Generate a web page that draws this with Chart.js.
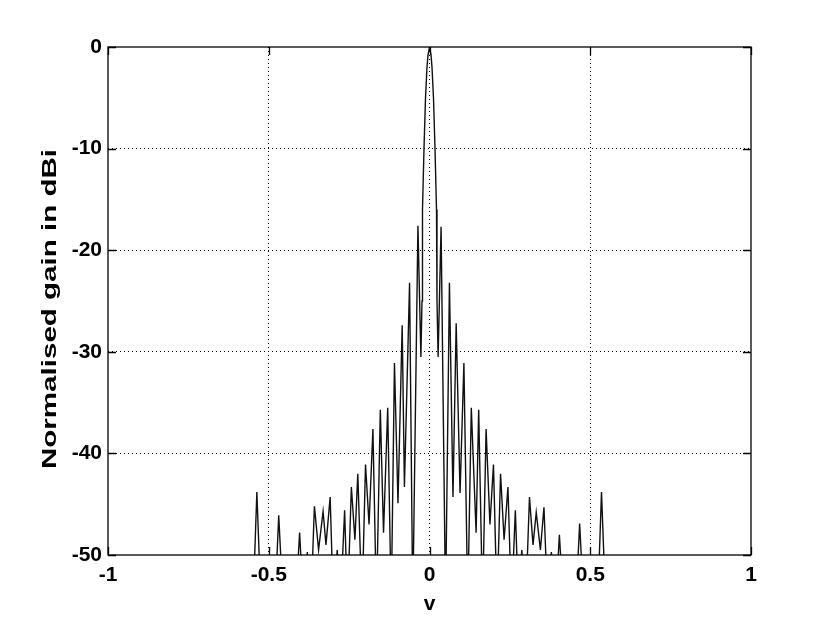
<!DOCTYPE html>
<html>
<head>
<meta charset="utf-8">
<script src="https://cdn.jsdelivr.net/npm/chart.js@4/dist/chart.umd.min.js"></script>
<style>
  html, body { margin: 0; padding: 0; background: #fff; }
  canvas { display: block; }
</style>
</head>
<body>
<canvas id="pattern" width="830" height="623"></canvas>
<script>
// sampled beam pattern, read off the picture (v, gain in dBi)
// values below -50 are off the axis, they just go down past the bottom
const vValues = [
	-1.0, -0.549, -0.537, -0.524, -0.481, -0.469, -0.455, -0.417, -0.404, -0.392,
	-0.380, -0.369, -0.358, -0.345, -0.331, -0.322, -0.309, -0.299, -0.287, -0.277,
	-0.264, -0.255, -0.243, -0.232, -0.223, -0.210, -0.199, -0.188, -0.176, -0.165,
	-0.153, -0.143, -0.130, -0.119, -0.109, -0.098, -0.085, -0.078, -0.062, -0.052,
	-0.036, -0.0268, -0.0233, -0.0218, -0.0171, -0.0124, -0.0078, -0.0047, 0,
	0.0047, 0.0078, 0.0124, 0.0171, 0.0218, 0.0233, 0.0268, 0.036, 0.050, 0.062,
	0.073, 0.083, 0.095, 0.107, 0.119, 0.130, 0.145, 0.153, 0.165, 0.176,
	0.188, 0.199, 0.210, 0.221, 0.232, 0.244, 0.255, 0.267, 0.277, 0.287,
	0.299, 0.311, 0.322, 0.332, 0.345, 0.356, 0.368, 0.379, 0.392, 0.404,
	0.417, 0.455, 0.467, 0.480, 0.523, 0.535, 0.548, 1.0
];
const gainDb = [
	-55, -55, -43.8, -55, -55, -46.1, -55, -55, -47.8, -55,
	-49.7, -55, -45.2, -49.5, -45.7, -49.0, -44.3, -55, -49.5, -55,
	-45.6, -55, -43.3, -48.5, -42.0, -55, -41.1, -47.0, -37.6, -55,
	-35.7, -47.8, -35.5, -55, -31.1, -44.9, -27.4, -43.3, -23.2, -55,
	-17.6, -30.5, -25.0, -16.0, -10.0, -5.0, -2.0, -0.8, 0,
	-0.8, -2.0, -5.0, -10.0, -16.0, -25.0, -30.5, -17.7, -55, -23.2,
	-44.3, -27.2, -43.9, -31.1, -55, -35.5, -47.8, -35.7, -55, -37.6,
	-47.0, -41.1, -55, -42.0, -48.5, -43.3, -55, -45.6, -55, -49.5,
	-55, -44.3, -49.0, -45.8, -49.5, -45.3, -55, -49.7, -55, -48.0,
	-55, -55, -46.9, -55, -55, -43.8, -55, -55
];
const xTicks = [-1, -0.5, 0, 0.5, 1];
const yTicks = [-50, -40, -30, -20, -10, 0];
const xTitle = "v";
const yTitle = "Normalised gain in dBi";

const points = vValues.map((v, i) => ({ x: v, y: gainDb[i] }));

// matlab style: closed box, ticks pointing inwards, hand drawn axis titles
const matlabFrame = {
	id: "matlabFrame",
	afterDraw(chart) {
		const ctx = chart.ctx;
		const a = chart.chartArea;
		const xs = chart.scales.x;
		const ys = chart.scales.y;
		const tl = 8;
		ctx.save();
		ctx.strokeStyle = "#000";
		ctx.lineWidth = 1.3;
		ctx.setLineDash([]);
		ctx.beginPath();
		xTicks.forEach((t) => {
			const px = Math.round(xs.getPixelForValue(t)) + 0.5;
			ctx.moveTo(px, a.bottom);
			ctx.lineTo(px, a.bottom - tl);
			ctx.moveTo(px, a.top);
			ctx.lineTo(px, a.top + tl);
		});
		yTicks.forEach((t) => {
			const py = Math.round(ys.getPixelForValue(t)) + 0.5;
			ctx.moveTo(a.left, py);
			ctx.lineTo(a.left + tl, py);
			ctx.moveTo(a.right, py);
			ctx.lineTo(a.right - tl, py);
		});
		ctx.stroke();
		ctx.strokeRect(a.left, a.top, a.right - a.left, a.bottom - a.top);

		ctx.fillStyle = "#000";
		ctx.font = "bold 21px 'Liberation Sans', Arial, sans-serif";
		ctx.textAlign = "center";
		ctx.textBaseline = "middle";
		ctx.fillText(xTitle, (a.left + a.right) / 2, 604);

		// the original y title is stretched wide, about 320px long
		ctx.font = "bold 20px 'Liberation Sans', Arial, sans-serif";
		const stretch = 320 / ctx.measureText(yTitle).width;
		ctx.translate(50, 309);
		ctx.rotate(-Math.PI / 2);
		ctx.scale(stretch, 1);
		ctx.fillText(yTitle, 0, 0);
		ctx.restore();
	},
};

const edgeless = (ticks) => (c) =>
	c.tick && (c.tick.value === ticks[0] || c.tick.value === ticks[ticks.length - 1])
		? "rgba(0,0,0,0)"
		: "#000";

const tickFont = { family: "'Liberation Sans', Arial, sans-serif", size: 21, weight: "bold" };

new Chart(document.getElementById("pattern"), {
	type: "scatter",
	data: {
		datasets: [
			{
				data: points,
				showLine: true,
				borderColor: "#111",
				borderWidth: 1.4,
				pointRadius: 0,
				tension: 0,
			},
		],
	},
	options: {
		responsive: false,
		animation: false,
		layout: { padding: { left: 0, right: 79, top: 47, bottom: 0 } },
		plugins: { legend: { display: false }, tooltip: { enabled: false } },
		scales: {
			x: {
				type: "linear",
				min: -1,
				max: 1,
				afterBuildTicks: (s) => { s.ticks = xTicks.map((v) => ({ value: v })); },
				afterFit: (s) => { s.height = 68; },
				grid: { color: edgeless(xTicks), lineWidth: 1, drawTicks: false },
				border: { display: false, dash: [1, 3] },
				ticks: { color: "#000", padding: 8, font: tickFont, callback: (v) => String(v) },
			},
			y: {
				min: -50,
				max: 0,
				afterBuildTicks: (s) => { s.ticks = yTicks.map((v) => ({ value: v })); },
				afterFit: (s) => { s.width = 108; },
				grid: { color: edgeless(yTicks), lineWidth: 1, drawTicks: false },
				border: { display: false, dash: [1, 3] },
				ticks: { color: "#000", padding: 6, font: tickFont, callback: (v) => String(v) },
			},
		},
	},
	plugins: [matlabFrame],
});
</script>
</body>
</html>
